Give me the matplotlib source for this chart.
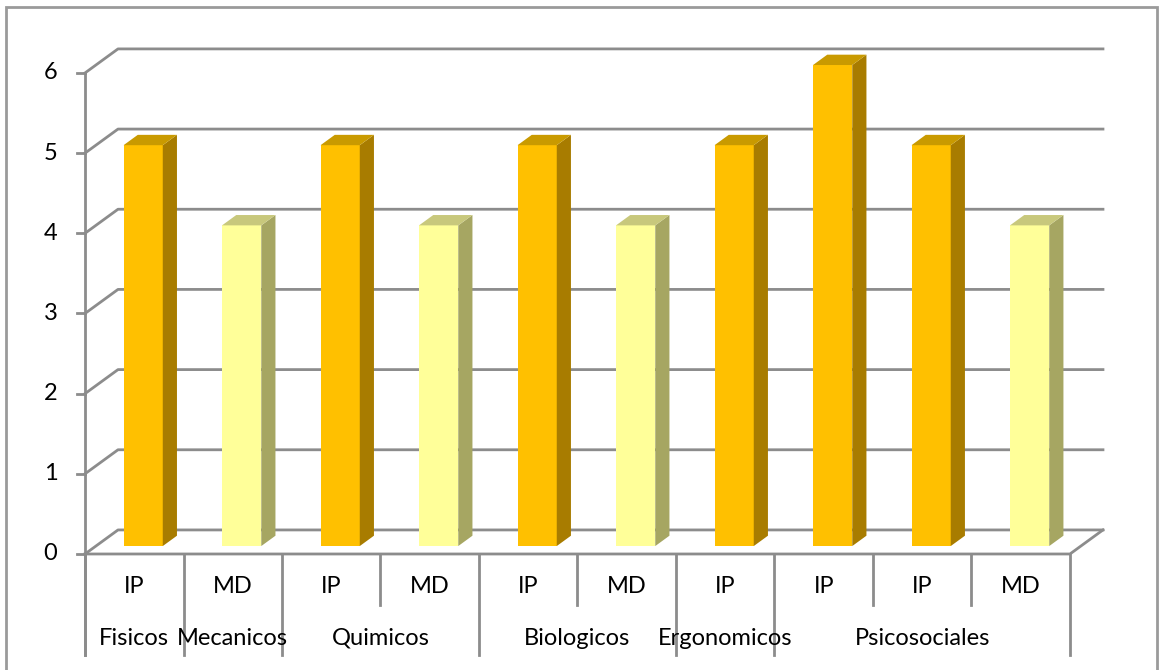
import numpy as np
import matplotlib.pyplot as plt
from matplotlib.patches import Polygon

# riesgos por categoria
tipos = ["IP", "MD", "IP", "MD", "IP", "MD", "IP", "IP", "IP", "MD"]
valores = [5, 4, 5, 4, 5, 4, 5, 6, 5, 4]
grupos = ["Fisicos", "Mecanicos", "Quimicos", "Biologicos", "Ergonomicos", "Psicosociales"]
grupo_centro = [0.5, 1.5, 3.0, 5.0, 6.5, 8.5]
# separadores: True = linea larga (limite de grupo)
separador_largo = [True, True, True, False, True, False, True, True, False, False, True]
y_ticks = [0, 1, 2, 3, 4, 5, 6]

colores = {
    "IP": ("#FFC000", "#A87C00", "#C99A00"),
    "MD": ("#FFFF99", "#A6A662", "#C8C87C"),
}

gris = "#8C8C8C"
dx, dy = 0.335, 0.30      # profundidad oblicua del "3D"
f0, f1 = 0.33, 0.76       # donde empieza/termina la barra en profundidad
ancho = 0.398

plt.rcParams['font.family'] = ['Lato', 'DejaVu Sans']

fig = plt.figure(figsize=(11.6, 6.7), dpi=100)
ax = fig.add_axes([0, 0, 1, 1])
ax.set_xlim(-0.863, 10.914)
ax.set_ylim(-1.447, 6.910)
ax.axis('off')

n = len(valores)
ymax = max(y_ticks)

# borde del area del grafico
ax.plot([-0.80, -0.80, 10.885, 10.885], [-1.6, 6.82, 6.82, -1.6],
        color="#9A9A9A", lw=2, clip_on=False, solid_joinstyle='miter')

# lineas de division: pared izquierda + pared de fondo
for v in y_ticks:
    ax.plot([0, dx, n + dx], [v, v + dy, v + dy], color=gris, lw=2)
    ax.plot([-0.08, 0], [v, v], color=gris, lw=2)
# piso
ax.plot([0, n, n + dx], [0, 0, dy], color=gris, lw=2)
# eje vertical frontal
ax.plot([0, 0], [-1.26, ymax], color=gris, lw=2)

# barras
for i, (t, v) in enumerate(zip(tipos, valores)):
    frente, lado, tapa = colores[t]
    x0 = i + 0.5 - ancho / 2 + f0 * dx - 0.02
    x1 = x0 + ancho
    yb = f0 * dy
    ox, oy = (f1 - f0) * dx, (f1 - f0) * dy
    ax.add_patch(Polygon([(x0, yb), (x1, yb), (x1, yb + v), (x0, yb + v)],
                         closed=True, facecolor=frente, edgecolor='none', zorder=3))
    ax.add_patch(Polygon([(x1, yb), (x1 + ox, yb + oy), (x1 + ox, yb + v + oy), (x1, yb + v)],
                         closed=True, facecolor=lado, edgecolor='none', zorder=3))
    ax.add_patch(Polygon([(x0, yb + v), (x1, yb + v), (x1 + ox, yb + v + oy), (x0 + ox, yb + v + oy)],
                         closed=True, facecolor=tapa, edgecolor='none', zorder=3))

# etiquetas del eje y
for v in y_ticks:
    ax.text(-0.35, v, str(v), ha='center', va='center', fontsize=17, color="#000000")

# eje de categorias con dos niveles
for k, largo in enumerate(separador_largo):
    ax.plot([k, k], [0, -1.26 if largo else -0.636], color=gris, lw=2)
for i, t in enumerate(tipos):
    ax.text(i + 0.5, -0.41, t, ha='center', va='center', fontsize=17)
for g, c in zip(grupos, grupo_centro):
    ax.text(c, -1.05, g, ha='center', va='center', fontsize=17)

fig.savefig("out.png", dpi=100)
